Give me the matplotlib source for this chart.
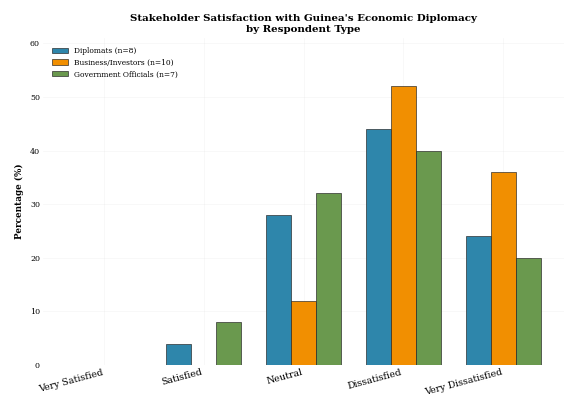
import numpy as np
import matplotlib
matplotlib.use("Agg")
import matplotlib.pyplot as plt

plt.rcParams['font.family'] = 'DejaVu Serif'

categories = ['Very Satisfied', 'Satisfied', 'Neutral', 'Dissatisfied', 'Very Dissatisfied']
diplomats = [0, 4, 28, 44, 24]
business = [0, 0, 12, 52, 36]
government = [0, 8, 32, 40, 20]
series_labels = ['Diplomats (n=8)', 'Business/Investors (n=10)', 'Government Officials (n=7)']
colors = ['#2E86AB', '#F18F01', '#6A994E']

fig = plt.figure(figsize=(10, 7), dpi=57)
ax = fig.add_axes([0.075, 0.085, 0.915, 0.82])

x = np.arange(len(categories))
w = 0.25
for i, (vals, lab) in enumerate(zip([diplomats, business, government], series_labels)):
    ax.bar(x + (i - 1) * w, vals, w, label=lab, color=colors[i],
           edgecolor='#222222', linewidth=0.8)

ax.set_xticks(x)
ax.set_xticklabels(categories, rotation=15, ha='right', fontsize=12)
ax.set_ylim(0, 61)
ax.set_yticks(range(0, 61, 10))
ax.tick_params(axis='y', labelsize=10, length=0)
ax.tick_params(axis='x', length=0)
ax.set_ylabel('Percentage (%)', fontsize=11, fontweight='bold', labelpad=8)
ax.set_title("Stakeholder Satisfaction with Guinea's Economic Diplomacy\nby Respondent Type",
             fontsize=13, fontweight='bold', pad=8)
for s in ax.spines.values():
    s.set_visible(False)
ax.grid(True, color='#dddddd', alpha=0.3, linewidth=0.8)
ax.set_axisbelow(True)
ax.legend(loc='upper left', fontsize=9.5, frameon=False, handlelength=2.2,
          borderaxespad=0.8)

fig.savefig('out.png', dpi=57)
